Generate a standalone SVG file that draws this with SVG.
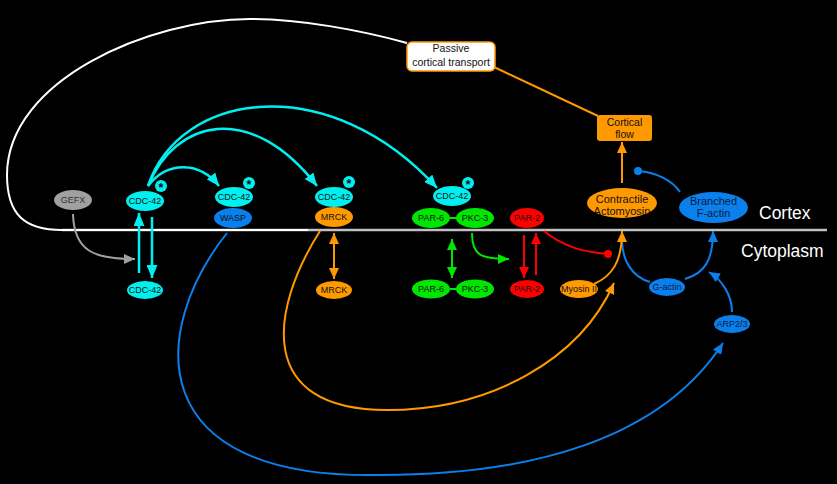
<svg xmlns="http://www.w3.org/2000/svg" width="837" height="484" viewBox="0 0 837 484">
<style>
text{font-family:"Liberation Sans",Arial,sans-serif;text-anchor:middle;fill:#111}
.s{font-size:9px}
.m{font-size:11px}
.lbl{font-size:17.5px;fill:#fff;text-anchor:start}
.c{fill:none;stroke-width:2}
.cy{stroke:#00f0f0;stroke-width:2.5}
.gr{stroke:#a0a0a0}
.or{stroke:#ff9900}
.gn{stroke:#00e600}
.rd{stroke:#ff0000}
.bl{stroke:#0a80ec}
.st{font-size:12.5px;font-weight:bold}
</style>
<defs>
<marker id="acy" markerUnits="userSpaceOnUse" markerWidth="13" markerHeight="11" refX="13" refY="5.5" orient="auto-start-reverse"><path d="M0,0 L13,5.5 L0,11 z" fill="#00f0f0"/></marker>
<marker id="agr" markerUnits="userSpaceOnUse" markerWidth="11" markerHeight="10" refX="11" refY="5" orient="auto-start-reverse"><path d="M0,0 L11,5 L0,10 z" fill="#a0a0a0"/></marker>
<marker id="aor" markerUnits="userSpaceOnUse" markerWidth="11" markerHeight="10" refX="11" refY="5" orient="auto-start-reverse"><path d="M0,0 L11,5 L0,10 z" fill="#ff9900"/></marker>
<marker id="agn" markerUnits="userSpaceOnUse" markerWidth="11" markerHeight="10" refX="11" refY="5" orient="auto-start-reverse"><path d="M0,0 L11,5 L0,10 z" fill="#00e600"/></marker>
<marker id="ard" markerUnits="userSpaceOnUse" markerWidth="11" markerHeight="10" refX="11" refY="5" orient="auto-start-reverse"><path d="M0,0 L11,5 L0,10 z" fill="#ff0000"/></marker>
<marker id="abl" markerUnits="userSpaceOnUse" markerWidth="11" markerHeight="10" refX="11" refY="5" orient="auto-start-reverse"><path d="M0,0 L11,5 L0,10 z" fill="#0a80ec"/></marker>
<marker id="drd" markerUnits="userSpaceOnUse" markerWidth="9" markerHeight="9" refX="4.5" refY="4.5" orient="auto"><circle cx="4.5" cy="4.5" r="4" fill="#ff0000"/></marker>
<marker id="dbl" markerUnits="userSpaceOnUse" markerWidth="9" markerHeight="9" refX="4.5" refY="4.5" orient="auto"><circle cx="4.5" cy="4.5" r="4" fill="#0a80ec"/></marker>
</defs>
<rect width="837" height="484" fill="#000"/>

<!-- membrane -->
<line x1="62" y1="230" x2="827" y2="230" stroke="#c0c0c0" stroke-width="2.5"/>
<text class="lbl" x="759" y="219">Cortex</text>
<text class="lbl" x="741" y="257">Cytoplasm</text>

<g id="connectors">
<path class="c" stroke="#fff" d="M407 43 C360 30,300 19,250 19 C150 19,7 80,7 175 C7 215,25 230,62 230 L308 230"/>
<line class="c or" x1="494" y1="67" x2="598" y2="116"/>
<path class="c cy" marker-end="url(#acy)" d="M148 186 C168 160,200 162,219 186"/>
<path class="c cy" marker-end="url(#acy)" d="M148 186 C175 120,250 100,317 186"/>
<path class="c cy" marker-end="url(#acy)" d="M148 186 C180 90,330 70,437 188"/>
<path class="c cy" marker-end="url(#acy)" d="M139 273 L139 213"/>
<path class="c cy" marker-end="url(#acy)" d="M152 217 L152 278"/>
<path class="c gr" marker-end="url(#agr)" d="M73 214 C74 252,95 259,135 259"/>
<path class="c or" marker-start="url(#aor)" marker-end="url(#aor)" d="M334 233 L334 279"/>
<path class="c gn" marker-start="url(#agn)" marker-end="url(#agn)" d="M452 239 L452 278"/>
<path class="c gn" marker-end="url(#agn)" d="M472 233 C472 255,480 259,509 259"/>
<path class="c rd" marker-end="url(#ard)" d="M524 235 L524 278"/>
<path class="c rd" marker-end="url(#ard)" d="M536 275 L536 233"/>
<path class="c rd" marker-end="url(#drd)" d="M544 231 C565 248,585 252,608 254"/>
<path class="c or" marker-end="url(#aor)" d="M320 231 C270 310,255 410,387 410 C490 410,580 360,614 283"/>
<path class="c bl" marker-end="url(#abl)" d="M227 233 C150 330,140 480,380 475 C530 475,660 440,723 343"/>
<path class="c bl" marker-end="url(#abl)" d="M732 312 C732 295,722 280,709 272"/>
<path class="c bl" marker-end="url(#abl)" d="M685 279 C705 273,713 260,713 231"/>
<path class="c bl" d="M650 282 C632 277,622 260,622 240"/>
<path class="c or" marker-end="url(#aor)" d="M594 284 C612 276,622 262,622 231"/>
<path class="c or" marker-end="url(#aor)" d="M622 183 L622 142"/>
<path class="c bl" marker-end="url(#dbl)" d="M680 192 C672 180,655 172,638 171"/>
<line x1="450" y1="218" x2="457" y2="218" stroke="#00e600" stroke-width="2"/>
<line x1="450" y1="289" x2="457" y2="289" stroke="#00e600" stroke-width="2"/>
</g>

<g id="passive"><rect x="407" y="42" width="88" height="29" rx="5" fill="#fff" stroke="#ff9900" stroke-width="1.5"/><text class="m" style="font-size:10.5px" x="451" y="52">Passive</text><text class="m" style="font-size:10.5px" x="451" y="65.5">cortical transport</text></g>
<g id="cortical-flow"><rect x="597" y="115" width="55" height="26" rx="3" fill="#ff9900"/><text class="m" style="font-size:10.5px" x="624.5" y="125.5">Cortical</text><text class="m" style="font-size:10.5px" x="624.5" y="138">flow</text></g>

<g id="gefx"><ellipse cx="73" cy="200" rx="19" ry="10" fill="#a0a0a0"/><text class="s" x="73" y="203.2" style="fill:#333">GEFX</text></g>

<g id="cdc42-active"><ellipse cx="145" cy="201" rx="19" ry="10" fill="#00f0f0"/><text class="s" x="145" y="204.2">CDC-42</text><circle cx="161" cy="186" r="6" fill="#00f0f0"/><text class="st" x="161" y="191.5">*</text></g>

<g id="cdc42-wasp"><ellipse cx="234" cy="197" rx="19" ry="10" fill="#00f0f0"/><text class="s" x="234" y="200.2">CDC-42</text><circle cx="249" cy="183" r="6" fill="#00f0f0"/><text class="st" x="249" y="188.5">*</text>
<ellipse cx="233" cy="218" rx="19" ry="10" fill="#0a80ec"/><text class="s" x="233" y="221.2">WASP</text></g>

<g id="cdc42-mrck"><ellipse cx="334" cy="197" rx="19" ry="10" fill="#00f0f0"/><text class="s" x="334" y="200.2">CDC-42</text><circle cx="349" cy="182" r="6" fill="#00f0f0"/><text class="st" x="349" y="187.5">*</text>
<ellipse cx="334" cy="217" rx="19" ry="10" fill="#ff9900"/><text class="s" x="334" y="220.2">MRCK</text></g>

<g id="cdc42-par"><ellipse cx="452" cy="196" rx="19" ry="10" fill="#00f0f0"/><text class="s" x="452" y="199.2">CDC-42</text><circle cx="468" cy="183" r="6" fill="#00f0f0"/><text class="st" x="468" y="188.5">*</text>
<ellipse cx="431" cy="218" rx="19" ry="10" fill="#00e600"/><text class="s" x="431" y="221.2">PAR-6</text>
<ellipse cx="475" cy="218" rx="19" ry="10" fill="#00e600"/><text class="s" x="475" y="221.2">PKC-3</text></g>

<g id="par2-cortex"><ellipse cx="527" cy="218" rx="17" ry="10" fill="#ff0000"/><text class="s" x="527" y="221.2">PAR-2</text></g>

<g id="contractile"><ellipse cx="622" cy="203" rx="35" ry="15" fill="#ff9900"/><text class="m" x="622" y="202.5">Contractile</text><text class="m" x="622" y="215">Actomyosin</text></g>

<g id="branched"><ellipse cx="713.5" cy="207.5" rx="34.5" ry="15.5" fill="#0a80ec"/><text class="m" x="713.5" y="205" style="fill:#0a1a40">Branched</text><text class="m" x="713.5" y="217" style="fill:#0a1a40">F-actin</text></g>

<g id="cdc42-cyto"><ellipse cx="145" cy="290" rx="18" ry="9" fill="#00f0f0"/><text class="s" x="145" y="293.2">CDC-42</text></g>
<g id="mrck-cyto"><ellipse cx="334" cy="290" rx="18" ry="9" fill="#ff9900"/><text class="s" x="334" y="293.2">MRCK</text></g>
<g id="par-cyto"><ellipse cx="431" cy="289" rx="19" ry="9.5" fill="#00e600"/><text class="s" x="431" y="292.2">PAR-6</text><ellipse cx="475" cy="289" rx="19" ry="9.5" fill="#00e600"/><text class="s" x="475" y="292.2">PKC-3</text></g>
<g id="par2-cyto"><ellipse cx="527" cy="289" rx="17" ry="9" fill="#ff0000"/><text class="s" x="527" y="292.2">PAR-2</text></g>
<g id="myosin"><ellipse cx="579" cy="289" rx="19" ry="9" fill="#ff9900"/><text class="s" x="579" y="292.2">Myosin II</text></g>
<g id="gactin"><ellipse cx="667" cy="287" rx="18" ry="9" fill="#0a80ec"/><text class="s" x="667" y="290.2" style="fill:#0a1a40">G-actin</text></g>
<g id="arp"><ellipse cx="732" cy="324" rx="18" ry="9" fill="#0a80ec"/><text class="s" x="732" y="327.2" style="fill:#0a1a40">ARP2/3</text></g>
</svg>
